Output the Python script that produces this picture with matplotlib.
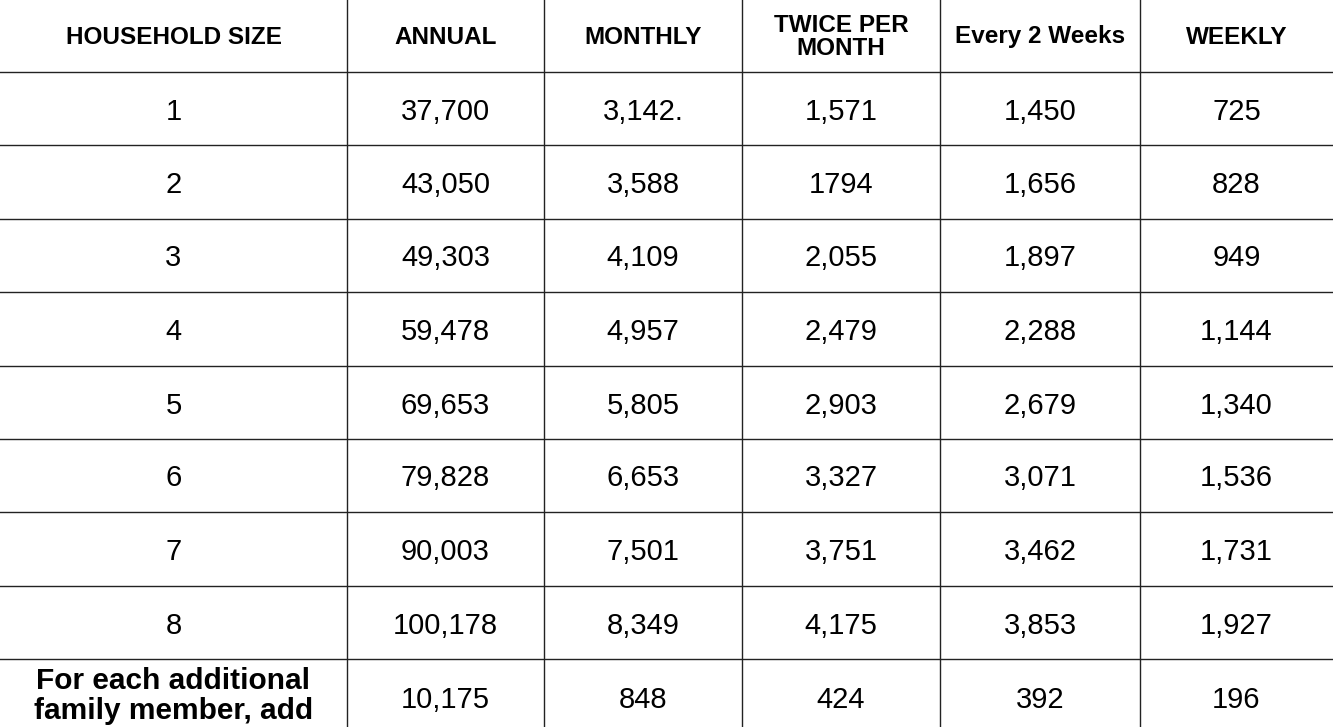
import matplotlib
matplotlib.use("Agg")
import matplotlib.pyplot as plt

headers = ["HOUSEHOLD SIZE", "ANNUAL", "MONTHLY", "TWICE PER\nMONTH", "Every 2 Weeks", "WEEKLY"]
household = ["1", "2", "3", "4", "5", "6", "7", "8", "For each additional\nfamily member, add"]
annual = ["37,700", "43,050", "49,303", "59,478", "69,653", "79,828", "90,003", "100,178", "10,175"]
monthly = ["3,142.", "3,588", "4,109", "4,957", "5,805", "6,653", "7,501", "8,349", "848"]
twice = ["1,571", "1794", "2,055", "2,479", "2,903", "3,327", "3,751", "4,175", "424"]
biweekly = ["1,450", "1,656", "1,897", "2,288", "2,679", "3,071", "3,462", "3,853", "392"]
weekly = ["725", "828", "949", "1,144", "1,340", "1,536", "1,731", "1,927", "196"]

W, H = 1333, 727
fig = plt.figure(figsize=(W / 100, H / 100), dpi=100)
ax = fig.add_axes([0, 0, 1, 1])
ax.set_xlim(0, W)
ax.set_ylim(H, 0)
ax.axis("off")

col_edges = [0, 347, 544, 742, 940, 1140, 1333]
row_edges = [0, 72, 145, 219, 292, 366, 439, 512, 586, 659, 745]
font = "Liberation Sans"

for x in col_edges[1:-1]:
    ax.plot([x, x], [0, H], color="#222222", lw=1)
for y in row_edges[1:-1]:
    ax.plot([0, W], [y, y], color="#222222", lw=1)

centers = [(col_edges[i] + col_edges[i + 1]) / 2 for i in range(6)]
for i, h in enumerate(headers):
    ax.text(centers[i], 37, h, ha="center", va="center", fontsize=17.5,
            fontweight="bold", family=font, linespacing=1.0)

cols = [household, annual, monthly, twice, biweekly, weekly]
for r in range(9):
    yc = (row_edges[r + 1] + row_edges[r + 2]) / 2 if r < 8 else 697
    for c, col in enumerate(cols):
        if c == 0 and r == 8:
            ax.text(centers[0], 696, col[r], ha="center", va="center", fontsize=21.5,
                    fontweight="bold", family=font, linespacing=1.1)
        else:
            ax.text(centers[c], yc, col[r], ha="center", va="center_baseline",
                    fontsize=21, family=font)

fig.savefig("out.png", dpi=100)
